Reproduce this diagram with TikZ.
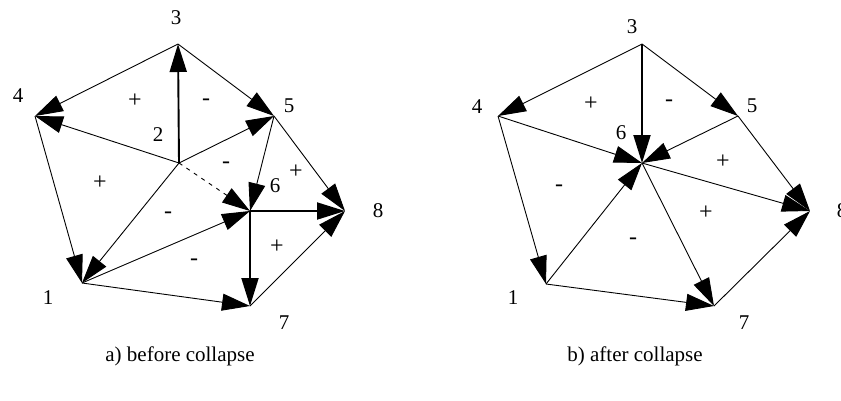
\documentclass[tikz,border=0pt]{standalone}
\usepackage{fontspec}
\setmainfont{Liberation Serif}
\usetikzlibrary{arrows.meta}
\begin{document}
\begin{tikzpicture}[x=1pt,y=-1pt,
  edge/.style={line width=0.9pt,-{Triangle[length=28pt,width=17pt]}},
  thick edge/.style={line width=1.9pt,-{Triangle[length=28pt,width=17pt]}},
  dash edge/.style={line width=0.9pt,dash pattern=on 4pt off 5pt,-{Triangle[length=28pt,width=17pt]}},
  lbl/.style={inner sep=0pt,font=\fontsize{21}{25}\selectfont},
  sgn/.style={inner sep=0pt,font=\fontsize{24}{28}\selectfont},
  captext/.style={inner sep=0pt,font=\fontsize{21}{25}\selectfont}]
\useasboundingbox (0,0) rectangle (841,400);
% ---------- a) before collapse ----------
\coordinate (a3) at (178,44);
\coordinate (a4) at (35,116);
\coordinate (a5) at (274,116);
\coordinate (a2) at (179,163);
\coordinate (a6) at (250,211);
\coordinate (a8) at (345,211);
\coordinate (a1) at (82,283);
\coordinate (a7) at (250,306);
\draw[edge] (a3) -- (a4);
\draw[edge] (a3) -- (a5);
\draw[thick edge] (a2) -- (a3);
\draw[edge] (a2) -- (a4);
\draw[edge] (a2) -- (a5);
\draw[edge] (a2) -- (a1);
\draw[dash edge] (a2) -- (a6);
\draw[edge] (a4) -- (a1);
\draw[edge] (a5) -- (a6);
\draw[edge] (a5) -- (a8);
\draw[edge] (a1) -- (a6);
\draw[edge] (a1) -- (a7);
\draw[thick edge] (a6) -- (a8);
\draw[thick edge] (a6) -- (a7);
\draw[edge] (a7) -- (a8);
\node[lbl] (la3) at (176,18) {3};
\node[lbl] (la4) at (18,96) {4};
\node[lbl] (la5) at (289,106) {5};
\node[lbl] (la2) at (158,135) {2};
\node[lbl] (la6) at (275,186) {6};
\node[lbl] (la8) at (378,211) {8};
\node[lbl] (la1) at (48,298) {1};
\node[lbl] (la7) at (284,323) {7};
\node[sgn] (sa1) at (135,101) {+};
\node[sgn] (sa2) at (206,102) {-};
\node[sgn] (sa3) at (100,183) {+};
\node[sgn] (sa4) at (226,165) {-};
\node[sgn] (sa5) at (296,172) {+};
\node[sgn] (sa6) at (168,215) {-};
\node[sgn] (sa7) at (194,262) {-};
\node[sgn] (sa8) at (277,247) {+};
\node[captext] (capa) at (180,356) {a) before collapse};
% ---------- b) after collapse ----------
\coordinate (b3) at (642,44);
\coordinate (b4) at (498,116);
\coordinate (b5) at (738,116);
\coordinate (b6) at (642,163);
\coordinate (b8) at (810,211);
\coordinate (b1) at (546,284);
\coordinate (b7) at (714,306);
\draw[edge] (b3) -- (b4);
\draw[edge] (b3) -- (b5);
\draw[thick edge] (b3) -- (b6);
\draw[edge] (b4) -- (b6);
\draw[edge] (b5) -- (b6);
\draw[edge] (b1) -- (b6);
\draw[edge] (b6) -- (b8);
\draw[edge] (b6) -- (b7);
\draw[edge] (b4) -- (b1);
\draw[edge] (b5) -- (b8);
\draw[edge] (b1) -- (b7);
\draw[edge] (b7) -- (b8);
\node[lbl] (lb3) at (632,27) {3};
\node[lbl] (lb4) at (477,107) {4};
\node[lbl] (lb5) at (752,106) {5};
\node[lbl] (lb6) at (621,133) {6};
\node[lbl] (lb8) at (842,211) {8};
\node[lbl] (lb1) at (513,298) {1};
\node[lbl] (lb7) at (744,323) {7};
\node[sgn] (sb1) at (591,104) {+};
\node[sgn] (sb2) at (669,103) {-};
\node[sgn] (sb3) at (559,188) {-};
\node[sgn] (sb4) at (723,162) {+};
\node[sgn] (sb5) at (706,213) {+};
\node[sgn] (sb6) at (633,241) {-};
\node[captext] (capb) at (635,356) {b) after collapse};
\end{tikzpicture}
\end{document}
